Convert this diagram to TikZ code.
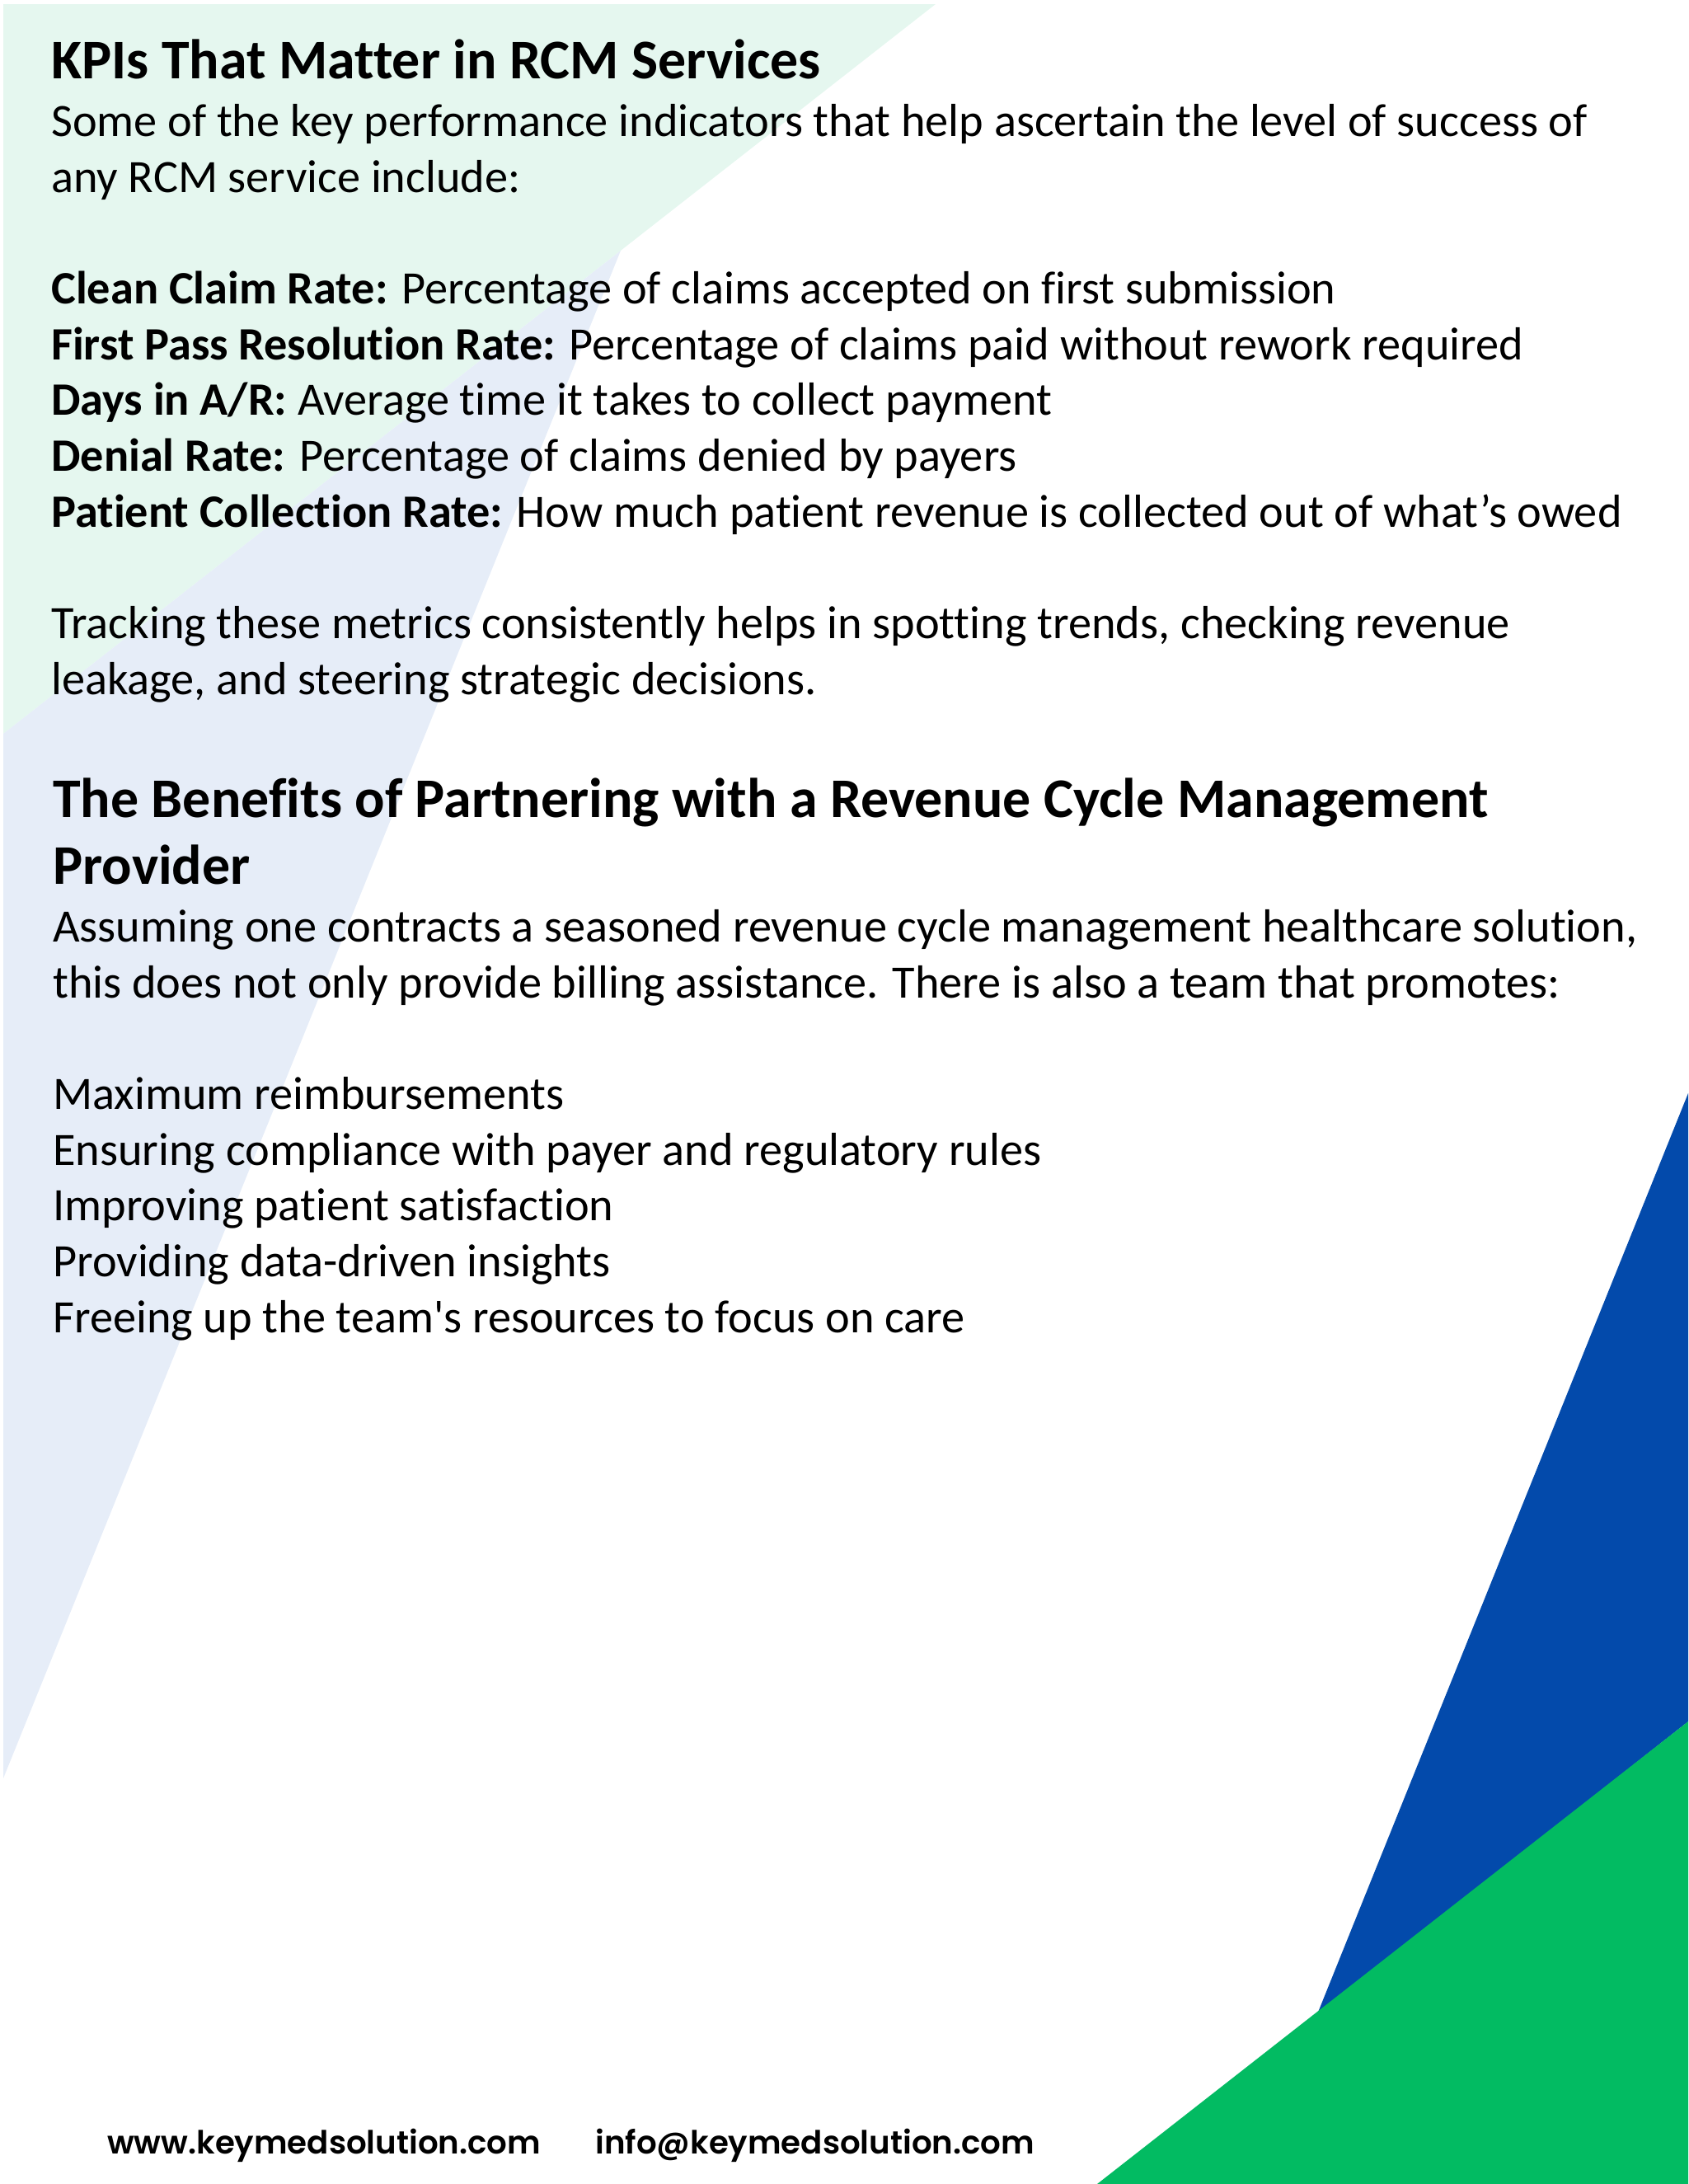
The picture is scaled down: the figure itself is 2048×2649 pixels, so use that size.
\documentclass[tikz,border=0pt]{standalone}
\usepackage{fontspec}
\setmainfont[Ligatures={NoCommon,TeXOff}]{Carlito}
\newfontfamily\footfont{Poppins SemiBold}
\definecolor{palegreen}{HTML}{E5F7EF}
\definecolor{paleblue}{HTML}{E6EDF8}
\definecolor{deepblue}{HTML}{034AAB}
\definecolor{deepgreen}{HTML}{02BB62}
\tikzset{
  txt/.style={anchor=base west,inner sep=0pt,font=\fontsize{40.7}{48}\selectfont},
  head/.style={anchor=base west,inner sep=0pt,font=\fontsize{49.1}{58}\selectfont\bfseries},
  foot/.style={anchor=base west,inner sep=0pt,font=\fontsize{28}{34}\footfont}
}
\newcommand{\px}{0.0254}
\begin{document}
\begin{tikzpicture}[x=\px cm,y=-\px cm]
\useasboundingbox (0,0) rectangle (2048,2649);
% background shapes
\fill[palegreen] (4,5) -- (1135,5) -- (4,890) -- cycle;
\fill[paleblue] (753,304) -- (4,890) -- (4,2157) -- cycle;
\fill[deepblue] (2048,1326) -- (2048,2088) -- (1598,2443) -- cycle;
\fill[deepgreen] (2048,2088) -- (2048,2649) -- (1331,2649) -- cycle;
% first block
\node (kpis) at (62,95) [head] {KPIs That Matter in RCM Services};
\node (intro1) at (62,165) [txt] {Some of the key performance indicators that help ascertain the level of success of};
\node (intro2) at (62,233) [txt] {any RCM service include:};
\node (clean) at (62,368) [txt] {\textbf{Clean Claim Rate:} Percentage of claims accepted on first submission};
\node (pass) at (62,436) [txt] {\textbf{First Pass Resolution Rate:} Percentage of claims paid without rework required};
\node (days) at (62,503) [txt] {\textbf{Days in A/R:} Average time it takes to collect payment};
\node (denial) at (62,571) [txt] {\textbf{Denial Rate:} Percentage of claims denied by payers};
\node (collect) at (62,639) [txt] {\textbf{Patient Collection Rate:} How much patient revenue is collected out of what’s owed};
\node (track1) at (62,774) [txt] {Tracking these metrics consistently helps in spotting trends, checking revenue};
\node (track2) at (62,842) [txt] {leakage, and steering strategic decisions.};
% second block
\node (benefits1) at (64,991) [head] {The Benefits of Partnering with a Revenue Cycle Management};
\node (benefits2) at (64,1072) [head] {Provider};
\node (assume1) at (64,1142) [txt] {Assuming one contracts a seasoned revenue cycle management healthcare solution,};
\node (assume2) at (64,1210) [txt] {this does not only provide billing assistance. There is also a team that promotes:};
\node (reimb) at (64,1345) [txt] {Maximum reimbursements};
\node (comply) at (64,1413) [txt] {Ensuring compliance with payer and regulatory rules};
\node (satisf) at (64,1480) [txt] {Improving patient satisfaction};
\node (insight) at (64,1548) [txt] {Providing data-driven insights};
\node (freeing) at (64,1616) [txt] {Freeing up the team's resources to focus on care};
% footer
\node (web) at (130,2612) [foot] {www.keymedsolution.com};
\node (mail) at (722,2612) [foot] {info@keymedsolution.com};
\end{tikzpicture}
\end{document}
